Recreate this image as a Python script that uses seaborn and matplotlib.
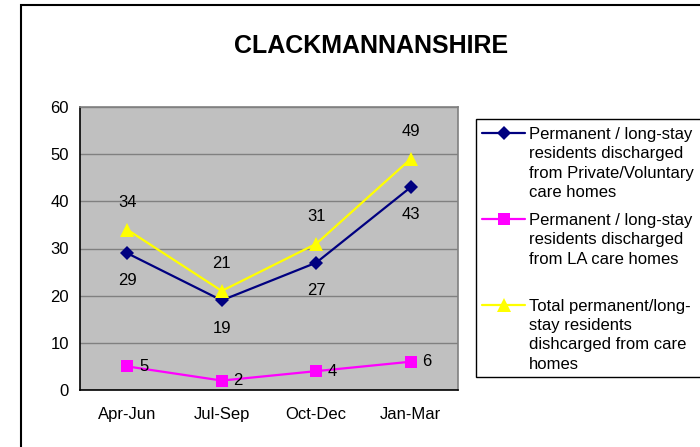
import matplotlib
matplotlib.use("Agg")
import matplotlib.pyplot as plt
from matplotlib.lines import Line2D
from matplotlib.patches import Rectangle
import pandas as pd
import seaborn as sns

quarters = ["Apr-Jun", "Jul-Sep", "Oct-Dec", "Jan-Mar"]
private_vol = [29, 19, 27, 43]
la_homes = [5, 2, 4, 6]
total = [34, 21, 31, 49]

legend_lines = [
    ["Permanent / long-stay", "residents discharged", "from Private/Voluntary", "care homes"],
    ["Permanent / long-stay", "residents discharged", "from LA care homes"],
    ["Total permanent/long-", "stay residents", "dishcarged from care", "homes"],
]
colors = ["#000080", "#FF00FF", "#FFFF00"]
markers = ["D", "s", "^"]
msizes = [7.5, 9, 10]

sns.set_style("white")
plt.rcParams["font.family"] = ["Liberation Sans", "DejaVu Sans"]
plt.rcParams["text.color"] = "black"
plt.rcParams["xtick.color"] = "black"
plt.rcParams["ytick.color"] = "black"
plt.rcParams["xtick.labelcolor"] = "black"
plt.rcParams["ytick.labelcolor"] = "black"

FS = 12
W, H = 700, 447
fig = plt.figure(figsize=(W / 100, H / 100), dpi=100)


def fx(px):
    return px / W


def fy(py):
    return 1 - py / H


# outer chart border (only top/left visible in the crop)
fig.patches.append(Rectangle((fx(21), fy(460)), fx(720) - fx(21), fy(5) - fy(460),
                             transform=fig.transFigure, fill=False, edgecolor="black",
                             linewidth=1.5, clip_on=False))

ax = fig.add_axes([fx(80), fy(390), fx(458) - fx(80), fy(107) - fy(390)])
ax.set_facecolor("#C0C0C0")

all_series = [private_vol, la_homes, total]
for vals, c, m, ms in zip(all_series, colors, markers, msizes):
    df = pd.DataFrame({"quarter": quarters, "value": vals})
    sns.lineplot(data=df, x="quarter", y="value", ax=ax, color=c, marker=m,
                 markersize=ms, markeredgecolor=c, markeredgewidth=0,
                 linewidth=1.6, sort=False, zorder=3)

# data labels
for i, v in enumerate(private_vol):
    ax.annotate(str(v), (i, v), xytext=(0, -20), textcoords="offset points",
                ha="center", va="center", fontsize=FS)
for i, v in enumerate(total):
    ax.annotate(str(v), (i, v), xytext=(0, 19.5), textcoords="offset points",
                ha="center", va="center", fontsize=FS)
for i, v in enumerate(la_homes):
    ax.annotate(str(v), (i, v), xytext=(8.5, 0), textcoords="offset points",
                ha="left", va="center", fontsize=FS)

ax.set_xlim(-0.5, len(quarters) - 0.5)
ax.set_ylim(0, 60)
ax.set_yticks(range(0, 61, 10))
ax.set_xticks(range(len(quarters)))
ax.set_xticklabels(quarters)
ax.set_xticks([i - 0.5 for i in range(len(quarters) + 1)], minor=True)
ax.yaxis.grid(True, color="#808080", linewidth=1)
ax.set_axisbelow(True)
ax.tick_params(axis="x", which="major", length=0, pad=12, labelsize=FS)
ax.tick_params(axis="x", which="minor", length=4, width=1, color="black", direction="out")
ax.tick_params(axis="y", length=4, width=1, color="black", direction="out", pad=4, labelsize=FS)
ax.set_xlabel("")
ax.set_ylabel("")
for side in ["top", "right"]:
    ax.spines[side].set_color("#808080")
    ax.spines[side].set_linewidth(1.2)
for side in ["left", "bottom"]:
    ax.spines[side].set_color("black")
    ax.spines[side].set_linewidth(1.2)

fig.text(fx(371), fy(46), "CLACKMANNANSHIRE", ha="center", va="center",
         fontsize=18, fontweight="bold")

# legend box
fig.patches.append(Rectangle((fx(476), fy(377)), fx(720) - fx(476), fy(119) - fy(377),
                             transform=fig.transFigure, facecolor="white", edgecolor="black",
                             linewidth=1, clip_on=False))
first_line_y = [134, 220, 306]
line_gap = 19.5
for lines, y0, c, m, ms in zip(legend_lines, first_line_y, colors, markers, msizes):
    fig.lines.append(Line2D([fx(482), fx(525)], [fy(y0 - 1), fy(y0 - 1)], transform=fig.transFigure,
                            color=c, linewidth=1.6))
    fig.lines.append(Line2D([fx(503.5)], [fy(y0 - 1)], transform=fig.transFigure,
                            color=c, marker=m, markersize=ms, markeredgewidth=0, linestyle="none"))
    for k, txt in enumerate(lines):
        fig.text(fx(529), fy(y0 + k * line_gap), txt, ha="left", va="center", fontsize=FS)

fig.savefig("out.png", dpi=100)
